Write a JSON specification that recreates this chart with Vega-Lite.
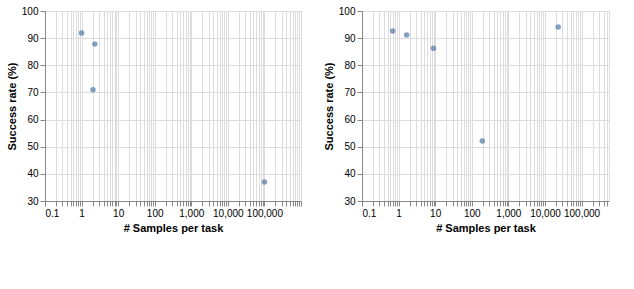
{
  "$schema": "https://vega.github.io/schema/vega-lite/v6.json",
  "hconcat": [
    {
      "width": 256, "height": 190,
      "data": {"values": [
        {"method": "AdaPlanner", "kind": "ours", "samples": 1, "success": 91.9},
        {"method": "Reflexion", "kind": "base", "samples": 2.3, "success": 87.8},
        {"method": "ReAct", "kind": "base", "samples": 2.05, "success": 71.0},
        {"method": "BUTLER", "kind": "base", "samples": 100000, "success": 37.0}
      ]},
      "mark": {"type": "point", "filled": true},
      "encoding": {
        "x": {"field": "samples", "type": "quantitative", "scale": {"type": "log", "domain": [0.1, 1000000]}, "title": "# Samples per task"},
        "y": {"field": "success", "type": "quantitative", "scale": {"domain": [30, 100]}, "title": "Success rate (%)"}
      }
    },
    {
      "width": 247, "height": 190,
      "data": {"values": [
        {"method": "AdaPlanner", "kind": "ours", "samples": 0.69, "success": 92.6},
        {"method": "RCI", "kind": "base", "samples": 1.66, "success": 91.2},
        {"method": "WGE", "kind": "base", "samples": 9, "success": 86.3},
        {"method": "WebN-T5-3B", "kind": "base", "samples": 194, "success": 52.1},
        {"method": "CC-NET", "kind": "base", "samples": 23000, "success": 94.1}
      ]},
      "mark": {"type": "point", "filled": true},
      "encoding": {
        "x": {"field": "samples", "type": "quantitative", "scale": {"type": "log", "domain": [0.1, 562341]}, "title": "# Samples per task"},
        "y": {"field": "success", "type": "quantitative", "scale": {"domain": [30, 100]}, "title": "Success rate (%)"}
      }
    }
  ]
}
